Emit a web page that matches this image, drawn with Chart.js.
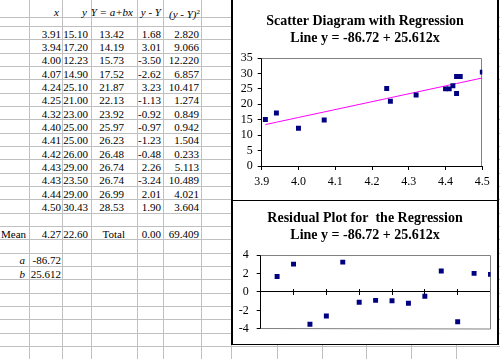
<!DOCTYPE html>
<html>
<head>
<meta charset="utf-8">
<script src="https://cdn.jsdelivr.net/npm/chart.js@4.4.0/dist/chart.umd.min.js"></script>
<style>
body { margin: 0; width: 500px; height: 359px; overflow: hidden; background: #fff; position: relative; font-family: "Liberation Serif", serif; }
.gl { position: absolute; background: #c0c0c0; }
.cell { position: absolute; font-size: 11px; line-height: 11px; height: 11px; white-space: nowrap; color: #000; }
.box { position: absolute; background: #fff; border: solid #000; }
.wrap { position: absolute; }
</style>
</head>
<body>
<div id="sheet"></div>
<div class="box" style="left:231px;top:-1px;width:264px;height:201px;border-width:1px 2px 0 2px"></div>
<div class="box" style="left:231px;top:200px;width:264px;height:143px;border-width:1px 2px 1px 2px"></div>
<div class="wrap" style="left:233px;top:0;width:264px;height:200px"><canvas id="scatter-chart" width="264" height="200"></canvas></div>
<div class="wrap" style="left:233px;top:201px;width:264px;height:143px"><canvas id="residual-chart" width="264" height="143"></canvas></div>
<script>
// data read from the worksheet
var xValues = [3.91, 3.94, 4.00, 4.07, 4.24, 4.25, 4.32, 4.40, 4.41, 4.42, 4.43, 4.43, 4.44, 4.50]
var yValues = [15.10, 17.20, 12.23, 14.90, 25.10, 21.00, 23.00, 25.00, 25.00, 26.00, 29.00, 23.50, 29.00, 30.43]
var fitted = [13.42, 14.19, 15.73, 17.52, 21.87, 22.13, 23.92, 25.97, 26.23, 26.48, 26.74, 26.74, 26.99, 28.53]
var residuals = [1.68, 3.01, -3.50, -2.62, 3.23, -1.13, -0.92, -0.97, -1.23, -0.48, 2.26, -3.24, 2.01, 1.90]
var squares = [2.820, 9.066, 12.220, 6.857, 10.417, 1.274, 0.849, 0.942, 1.504, 0.233, 5.113, 10.489, 4.021, 3.604]
var meanX = '4.27', meanY = '22.60', totalResid = '0.00', totalSquares = '69.409'
var interceptA = '-86.72', slopeB = '25.612'
var scatterTitle = ['Scatter Diagram with Regression', 'Line y = -86.72 + 25.612x']
var residualTitle = ['Residual Plot for  the Regression', 'Line y = -86.72 + 25.612x']

// ---- worksheet grid ----
var sheet = document.getElementById('sheet')
var colLines = [29, 62, 91, 137, 163, 201, 231, 277, 322, 366, 411, 456]
var rowH = 13.333
var rowLines = [17]
for (var k = 0; k <= 25; k++) rowLines.push(26 + rowH * k)

colLines.forEach(function(x) {
    var d = document.createElement('div')
    d.className = 'gl'
    d.style.cssText = 'left:' + x + 'px;top:0;width:1px;height:359px'
    sheet.appendChild(d)
})
rowLines.forEach(function(y) {
    var d = document.createElement('div')
    d.className = 'gl'
    d.style.cssText = 'left:0;top:' + Math.round(y) + 'px;width:500px;height:1px'
    sheet.appendChild(d)
})

function put(html, right, bottom, left) {
    var d = document.createElement('div')
    d.className = 'cell'
    d.innerHTML = html
    if (left) d.style.left = left + 'px'
    else d.style.right = (500 - right) + 'px'
    d.style.top = (bottom - 10.5) + 'px'
    sheet.appendChild(d)
}

// header
put('<i>x</i>', 59, 17)
put('<i>y</i>', 87, 17)
put('<i>Y = a+bx</i>', 133, 17)
put('<i>y - Y</i>', 161, 17)
put('<i>(y - Y)</i><sup style="font-size:7px;vertical-align:4px">2</sup>', 200, 17)

var rowRight = [61, 88, 124, 161, 199]
for (var i = 0; i < xValues.length; i++) {
    var b = 26 + rowH * (i + 1)
    put(xValues[i].toFixed(2), rowRight[0], b)
    put(yValues[i].toFixed(2), rowRight[1], b)
    put(fitted[i].toFixed(2), rowRight[2], b)
    put(residuals[i].toFixed(2), rowRight[3], b)
    put(squares[i].toFixed(3), rowRight[4], b)
}
var meanBottom = 26 + rowH * 16
put('Mean', 0, meanBottom, 1)
put(meanX, rowRight[0], meanBottom)
put(meanY, rowRight[1], meanBottom)
put('Total', 125, meanBottom)
put(totalResid, rowRight[3], meanBottom)
put(totalSquares, rowRight[4], meanBottom)
put('<i>a</i>', 25, 26 + rowH * 18)
put(interceptA, rowRight[0], 26 + rowH * 18)
put('<i>b</i>', 25, 26 + rowH * 19)
put(slopeB, rowRight[0], 26 + rowH * 19)

// ---- charts ----
Chart.defaults.color = '#000'
Chart.defaults.font.family = 'Liberation Serif'
Chart.defaults.font.size = 12

var plotFrame = {
    id: 'plotFrame',
    beforeDatasetsDraw: function(chart, args, opts) {
        var a = chart.chartArea, ctx = chart.ctx
        ctx.save()
        ctx.strokeStyle = '#808080'
        ctx.lineWidth = 1
        ctx.beginPath()
        ctx.moveTo(a.left, Math.round(a.top) + 0.5)
        ctx.lineTo(Math.round(a.right) - 0.5, Math.round(a.top) + 0.5)
        ctx.lineTo(Math.round(a.right) - 0.5, Math.round(a.bottom))
        if (opts.bottom) ctx.lineTo(a.left, Math.round(a.bottom) - 0.5)
        ctx.stroke()
        ctx.restore()
    }
}

// empty right-hand axis used only as a spacer, so the titles stay centred on the whole box
function spacer(w) {
    return {
        position: 'right',
        ticks: { display: false },
        grid: { display: false },
        border: { display: false },
        afterFit: function(s) { s.width = w }
    }
}

var titleFont = { family: 'Liberation Serif', size: 14, weight: 'bold', lineHeight: 1.2 }

var scatterPoints = xValues.map(function(x, i) { return { x: x, y: yValues[i] } })
var fitPoints = xValues.map(function(x, i) { return { x: x, y: fitted[i] } })

var scatterConfig = {
    type: 'scatter',
    data: {
        datasets: [{
            data: scatterPoints,
            pointStyle: 'rect',
            pointRadius: 3.5,
            borderWidth: 0,
            backgroundColor: '#000080'
        }, {
            data: fitPoints,
            showLine: true,
            pointRadius: 0,
            borderColor: '#ff00ff',
            borderWidth: 1
        }]
    },
    options: {
        responsive: false,
        animation: false,
        layout: { padding: 0 },
        plugins: {
            legend: { display: false },
            tooltip: { enabled: false },
            title: { display: true, text: scatterTitle, font: titleFont, color: '#000', padding: { top: 13.3, bottom: 11.1 } },
            plotFrame: { bottom: false }
        },
        scales: {
            x: {
                type: 'linear', min: 3.9, max: 4.5,
                ticks: { stepSize: 0.1, padding: 5, autoSkip: false, maxRotation: 0, callback: function(v) { return v.toFixed(1) } },
                grid: { drawOnChartArea: false, tickLength: 4, color: '#000' },
                border: { color: '#000' },
                afterFit: function(s) { s.height = 34 }
            },
            y: {
                min: 0, max: 35,
                ticks: { stepSize: 5, padding: 5, autoSkip: false },
                grid: { drawOnChartArea: false, tickLength: 4, color: '#000' },
                border: { color: '#000' },
                afterFit: function(s) { s.width = 28.7 }
            },
            pad: spacer(14.7)
        }
    },
    plugins: [plotFrame]
}

var residualPoints = residuals.map(function(r, i) { return { x: i + 1, y: r } })

var residualConfig = {
    type: 'scatter',
    data: {
        datasets: [{
            data: residualPoints,
            pointStyle: 'rect',
            pointRadius: 3.5,
            borderWidth: 0,
            backgroundColor: '#000080'
        }]
    },
    options: {
        responsive: false,
        animation: false,
        layout: { padding: 0 },
        plugins: {
            legend: { display: false },
            tooltip: { enabled: false },
            title: { display: true, text: residualTitle, font: { family: 'Liberation Serif', size: 14, weight: 'bold', lineHeight: 1.25 }, color: '#000', padding: { top: 8.5, bottom: 10.5 } },
            plotFrame: { bottom: true }
        },
        scales: {
            x: {
                type: 'linear', min: 0, max: 14, position: { y: 0 },
                ticks: { stepSize: 2, display: false },
                grid: { drawOnChartArea: false, tickLength: 3, color: '#000' },
                border: { color: '#000' },
                afterFit: function(s) { s.height = 18 }
            },
            x2: {
                axis: 'x', type: 'linear', min: 0, max: 14, position: { y: 0 },
                ticks: { stepSize: 2, display: false },
                grid: { drawOnChartArea: false, tickLength: -3, color: '#000' },
                border: { color: '#000' },
                afterFit: function(s) { s.height = 0 }
            },
            y: {
                min: -4, max: 4,
                ticks: { stepSize: 2, padding: 8, autoSkip: false },
                grid: { drawOnChartArea: false, tickLength: 4, color: '#000' },
                border: { color: '#000' },
                afterFit: function(s) { s.width = 27.7 }
            },
            pad: spacer(6.5)
        }
    },
    plugins: [plotFrame]
}

var scatterChart = new Chart(document.getElementById('scatter-chart').getContext('2d'), scatterConfig)
var residualChart = new Chart(document.getElementById('residual-chart').getContext('2d'), residualConfig)
</script>
</body>
</html>
